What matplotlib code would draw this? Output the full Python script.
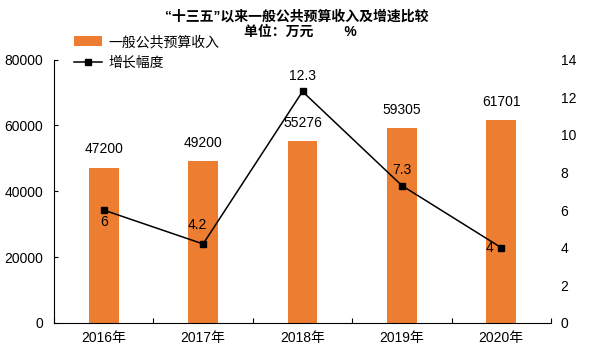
import matplotlib.pyplot as plt
import numpy as np

plt.rcParams['font.family'] = ['Liberation Sans', 'Noto Sans CJK SC', 'DejaVu Sans']

years = ['2016年', '2017年', '2018年', '2019年', '2020年']
revenue = [47200, 49200, 55276, 59305, 61701]
growth = [6, 4.2, 12.3, 7.3, 4]
growth_labels = ['6', '4.2', '12.3', '7.3', '4']

bar_color = '#ED7D31'
W, H = 600, 357

fig = plt.figure(figsize=(6, 3.57), dpi=100)
ax = fig.add_axes([54/W, 1 - 323/H, 497/W, 263.5/H])
x = np.arange(len(years))

bars = ax.bar(x, revenue, width=0.3, color=bar_color, label='一般公共预算收入', zorder=2)
ax.set_xlim(-0.5, len(years) - 0.5)
ax.set_ylim(0, 80000)
ax.set_yticks(np.arange(0, 80001, 20000))
ax.tick_params(axis='y', labelsize=10, length=3, direction='in', pad=8)
# tick marks between categories, labels under the bars
ax.set_xticks(np.arange(-0.5, len(years), 1))
ax.set_xticklabels([])
ax.tick_params(axis='x', which='major', direction='in', length=3.5, width=0.8, color='black')
ax.set_xticks(x, minor=True)
ax.set_xticklabels(years, minor=True, fontsize=10)
ax.tick_params(axis='x', which='minor', length=0, pad=6)
for s in ['top', 'right']:
    ax.spines[s].set_visible(False)
for b, v in zip(bars, revenue):
    ax.annotate(str(v), (b.get_x() + b.get_width() / 2, v), xytext=(0, 13),
                textcoords='offset points', ha='center', va='center', fontsize=10)

ax2 = ax.twinx()
ax2.set_ylim(0, 14)
ax2.set_yticks(np.arange(0, 15, 2))
ax2.tick_params(axis='y', labelsize=10, length=0, pad=7)
for s in ['top', 'right', 'left', 'bottom']:
    ax2.spines[s].set_visible(False)
line, = ax2.plot(x, growth, color='black', lw=1.1, marker='s', ms=5, label='增长幅度', zorder=3)

# label offsets in points
offsets = [(0, -8.5), (-4.3, 13.7), (0, 11), (0, 11), (-8.6, 0)]
for i, (lab, off) in enumerate(zip(growth_labels, offsets)):
    ax2.annotate(lab, (x[i], growth[i]), xytext=off, textcoords='offset points',
                 ha='center', va='center', fontsize=10)

fig.legend(handles=[bars, line], loc='upper left', bbox_to_anchor=(74/W, 1 - 35/H),
           frameon=False, fontsize=10, handlelength=2.0, handletextpad=0.45,
           labelspacing=0.5, borderpad=0, borderaxespad=0)

fig.text(297/W, 1 - 17/H, '“十三五”以来一般公共预算收入及增速比较', ha='center', va='center',
         fontsize=10, fontweight='bold')
fig.text(300/W, 1 - 32/H, '单位：万元        %', ha='center', va='center',
         fontsize=10, fontweight='bold')

fig.savefig('out.png', dpi=100)
